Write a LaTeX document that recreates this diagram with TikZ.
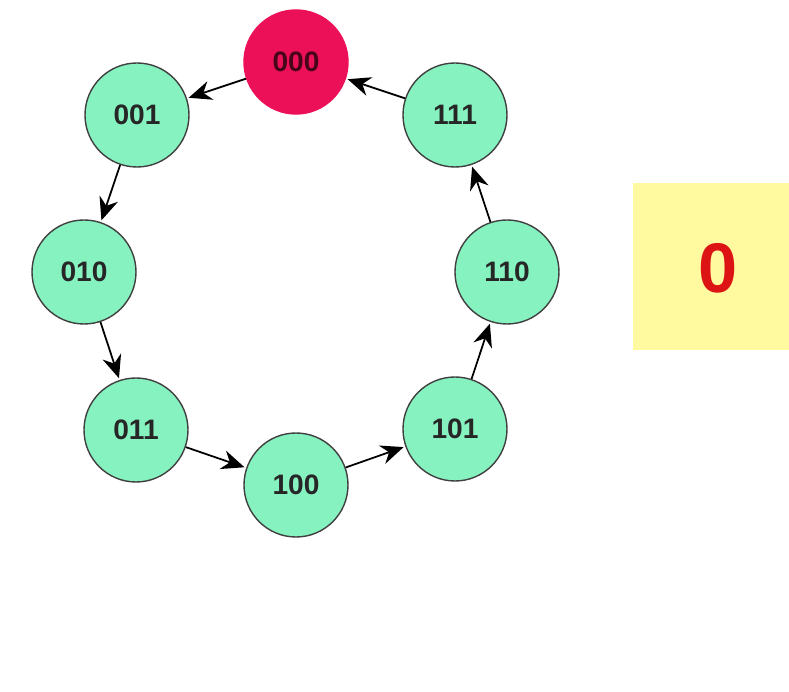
\documentclass[tikz,border=0pt]{standalone}
\usepackage{fontspec}
\setmainfont{Liberation Sans}
\usetikzlibrary{arrows.meta,automata,positioning}

\definecolor{stategreen}{RGB}{134,242,192}
\definecolor{statered}{RGB}{236,16,88}
\definecolor{boxyellow}{RGB}{255,250,160}
\definecolor{digitred}{RGB}{220,20,20}

\begin{document}
\begin{tikzpicture}[->,>={Stealth[length=13pt,width=11pt]},shorten >=1pt,auto,line width=1pt]
		\tikzstyle{every state}=[draw=black!75,fill=stategreen,text=black!85,minimum size=2.08cm,line width=0.8pt,font=\fontsize{16}{19}\selectfont\bfseries]
		\tikzstyle{current}=[fill=statered,draw=statered,text=black!70!statered]

		\useasboundingbox (0,0) rectangle (15.78,-13.84);

		\node[state,current] (S000) at (5.92,-1.24) {000};
		\node[state] (S001) at (2.74,-2.30) {001};
		\node[state] (S010) at (1.68,-5.44) {010};
		\node[state] (S011) at (2.72,-8.60) {011};
		\node[state] (S100) at (5.92,-9.70) {100};
		\node[state] (S101) at (9.10,-8.58) {101};
		\node[state] (S110) at (10.14,-5.44) {110};
		\node[state] (S111) at (9.10,-2.30) {111};

		\path (S000) edge (S001);
		\path (S001) edge (S010);
		\path (S010) edge (S011);
		\path (S011) edge (S100);
		\path (S100) edge (S101);
		\path (S101) edge (S110);
		\path (S110) edge (S111);
		\path (S111) edge (S000);

		\fill[boxyellow] (12.66,-3.66) rectangle (15.78,-7.00);
		\node[text=digitred,font=\fontsize{40}{48}\selectfont\bfseries] (count) at (14.36,-5.36) {0};
	\end{tikzpicture}
\end{document}
